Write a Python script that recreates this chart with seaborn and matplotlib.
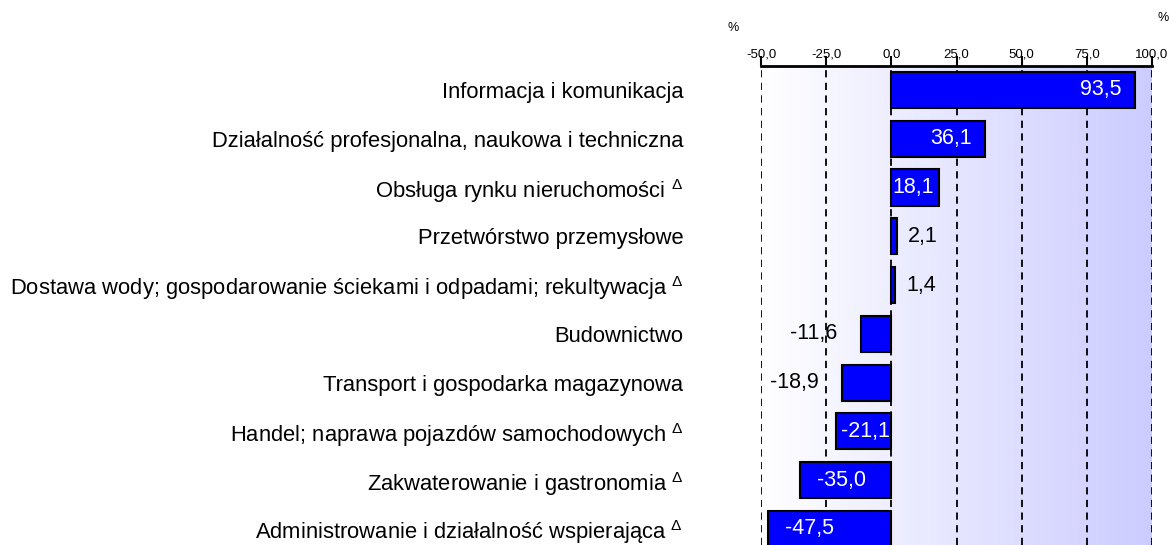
import numpy as np
import pandas as pd
import seaborn as sns
import matplotlib.pyplot as plt
from matplotlib.colors import LinearSegmentedColormap

sns.set_theme(style="white")
plt.rcParams['font.family'] = ['Liberation Sans', 'DejaVu Sans']
plt.rcParams['mathtext.fontset'] = 'custom'
plt.rcParams['mathtext.rm'] = 'Liberation Sans'
plt.rcParams['mathtext.it'] = 'Liberation Sans'
plt.rcParams['text.color'] = 'black'
plt.rcParams['xtick.color'] = 'black'
plt.rcParams['ytick.color'] = 'black'

# dane
kategorie = [
    "Informacja i komunikacja",
    "Działalność profesjonalna, naukowa i techniczna",
    "Obsługa rynku nieruchomości $^{\\Delta}$",
    "Przetwórstwo przemysłowe",
    "Dostawa wody; gospodarowanie ściekami i odpadami; rekultywacja $^{\\Delta}$",
    "Budownictwo",
    "Transport i gospodarka magazynowa",
    "Handel; naprawa pojazdów samochodowych $^{\\Delta}$",
    "Zakwaterowanie i gastronomia $^{\\Delta}$",
    "Administrowanie i działalność wspierająca $^{\\Delta}$",
]
wartosci = [93.5, 36.1, 18.1, 2.1, 1.4, -11.6, -18.9, -21.1, -35.0, -47.5]
ticki = [-50, -25, 0, 25, 50, 75, 100]

df = pd.DataFrame({"kat": kategorie, "val": wartosci})

fig = plt.figure(figsize=(11.73, 5.45), dpi=100)
ax = fig.add_axes([0.6488, 0.0, 0.3333, 0.8789])

# tło z gradientem
cmap = LinearSegmentedColormap.from_list("tlo", ["#ffffff", "#ccccff"])
grad = np.linspace(0, 1, 256).reshape(1, -1)
ax.imshow(grad, cmap=cmap, aspect="auto", extent=[-50, 100, 9.33, -0.49], zorder=0)

sns.barplot(data=df, x="val", y="kat", orient="h", color="#0000ff", saturation=1,
            width=0.74, edgecolor="black", linewidth=1.5, ax=ax, zorder=3)

ax.set_xlim(-50, 100)
ax.set_ylim(9.33, -0.49)

# siatka
for t in ticki:
    ax.axvline(t, color="black", linestyle=(0, (4, 3)), linewidth=1.3, zorder=2)

ax.xaxis.tick_top()
ax.set_xticks(ticki)
ax.set_xticklabels([f"{t:.1f}".replace(".", ",") for t in ticki], fontsize=9.5)
ax.tick_params(axis="x", direction="out", length=7, width=1.5, color="black", pad=-3)
ax.tick_params(axis="y", length=0, pad=56, labelsize=15.8)
for s in ["left", "right", "bottom"]:
    ax.spines[s].set_visible(False)
ax.spines["top"].set_linewidth(2)
ax.spines["top"].set_color("black")
ax.set_xlabel("")
ax.set_ylabel("")

# etykiety wartości
fig.canvas.draw()
renderer = fig.canvas.get_renderer()
ppu = ax.bbox.width / 150.0
fs = 15.5
for i, v in enumerate(wartosci):
    txt = f"{v:.1f}".replace(".", ",")
    tmp = ax.text(0, i, txt, fontsize=fs)
    w = tmp.get_window_extent(renderer).width / ppu
    tmp.remove()
    if w + 1 < abs(v):
        if v > 0:
            left = max(0.5, v - 14 / ppu - w)
        else:
            left = min(v + 17 / ppu, -0.5 - w)
        ax.text(left, i, txt, ha="left", va="center", color="white", fontsize=fs, zorder=4)
    else:
        if v > 0:
            ax.text(v + 4.3, i, txt, ha="left", va="center", color="black", fontsize=fs, zorder=4)
        else:
            ax.text(v - 9, i, txt, ha="right", va="center", color="black", fontsize=fs, zorder=4)

fig.text(0.625, 0.943, "%", fontsize=9, ha="center")
fig.text(0.992, 0.962, "%", fontsize=9, ha="center")

fig.savefig("out.png", dpi=100)
